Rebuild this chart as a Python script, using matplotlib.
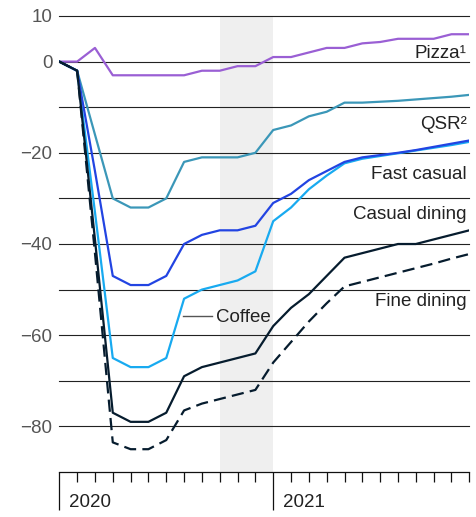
import matplotlib
matplotlib.use("Agg")
import matplotlib.pyplot as plt
from matplotlib.transforms import blended_transform_factory

# monthly index: 0 = first month of 2020, 12 = first month of 2021
months = list(range(24))
pizza = [0, 0, 3, -3, -3, -3, -3, -3, -2, -2, -1, -1, 1, 1, 2, 3, 3, 4, 4.3, 5, 5, 5, 6, 6]
qsr = [0, -2, -16, -30, -32, -32, -30, -22, -21, -21, -21, -20, -15, -14, -12, -11,
       -9, -9, -8.8, -8.6, -8.3, -8, -7.7, -7.3]
fast_casual = [0, -2, -24, -47, -49, -49, -47, -40, -38, -37, -37, -36, -31, -29, -26, -24,
               -22, -21, -20.5, -20, -19.4, -18.7, -18, -17.3]
coffee = [0, -2, -33, -65, -67, -67, -65, -52, -50, -49, -48, -46, -35, -32, -28, -25,
          -22.3, -21.3, -20.7, -20.1, -19.5, -18.9, -18.3, -17.6]
casual_dining = [0, -2, -39, -77, -79, -79, -77, -69, -67, -66, -65, -64, -58, -54, -51, -47,
                 -43, -42, -41, -40, -40, -39, -38, -37]
fine_dining = [0, -2, -42, -83.5, -85, -85, -83, -76.5, -75, -74, -73, -72, -66, -61.5, -57, -53,
               -49.3, -48.3, -47.3, -46.3, -45.3, -44.3, -43.2, -42.2]

yticks = [10, 0, -20, -40, -60, -80]
years = [(0, "2020"), (12, "2021")]
shade = (9, 12)

plt.rcParams["font.family"] = ["Liberation Sans", "DejaVu Sans"]

fig = plt.figure(figsize=(4.76, 5.17), dpi=100)
ax = fig.add_axes([59.3 / 476, 45 / 517, 410 / 476, 456 / 517])

ax.axvspan(*shade, color="#efefef", lw=0, zorder=0)
for y in range(-80, 11, 10):
    ax.axhline(y, color="#222222", lw=0.8, zorder=1, clip_on=False)

lw = 1.6
ax.plot(months, pizza, color="#9a5fd4", lw=lw, zorder=3)
ax.plot(months, qsr, color="#3b97b8", lw=lw, zorder=3)
ax.plot(months, coffee, color="#18aaf0", lw=lw, zorder=3)
ax.plot(months, fast_casual, color="#2244e2", lw=lw, zorder=4)
ax.plot(months, fine_dining, color="#061c2e", lw=lw, dashes=(5.5, 2.8), zorder=5)
ax.plot(months, casual_dining, color="#061c2e", lw=lw, zorder=5)

ax.set_xlim(0, 23)
ax.set_ylim(-90, 10)

for s in ["top", "right", "left"]:
    ax.spines[s].set_visible(False)
ax.spines["bottom"].set_color("#111111")
ax.spines["bottom"].set_linewidth(0.9)

ax.set_yticks(yticks)
ax.set_yticklabels([str(v).replace("-", "\u2212") for v in yticks])
ax.tick_params(axis="y", length=0, pad=5, labelsize=13.5, labelcolor="#555555")

ax.set_xticks([m for m, _ in years])
ax.set_xticks(months, minor=True)
ax.set_xticklabels([])
ax.tick_params(axis="x", which="major", length=27, width=0.9, color="#111111")
ax.tick_params(axis="x", which="minor", length=7.2, width=0.9, color="#111111")

trans = blended_transform_factory(ax.transData, ax.transAxes)
for m, lab in years:
    ax.text(m + 0.55, -0.076, lab, transform=trans, ha="left", va="baseline",
            fontsize=13.5, color="#222222")

lab_kw = dict(ha="right", va="baseline", fontsize=13.5, color="#222222", zorder=6)
ax.text(22.85, 0.7, "Pizza\u00b9", **lab_kw)
ax.text(22.85, -14.7, "QSR\u00b2", **lab_kw)
ax.text(22.85, -25.8, "Fast casual", **lab_kw)
ax.text(22.85, -34.6, "Casual dining", **lab_kw)
ax.text(22.85, -53.5, "Fine dining", **lab_kw)

ax.plot([6.95, 8.55], [-55.7, -55.7], color="#555555", lw=1, zorder=6)
ax.text(8.77, -57.2, "Coffee", ha="left", va="baseline", fontsize=13.5, color="#222222", zorder=6)

fig.savefig("out.png", dpi=100)
